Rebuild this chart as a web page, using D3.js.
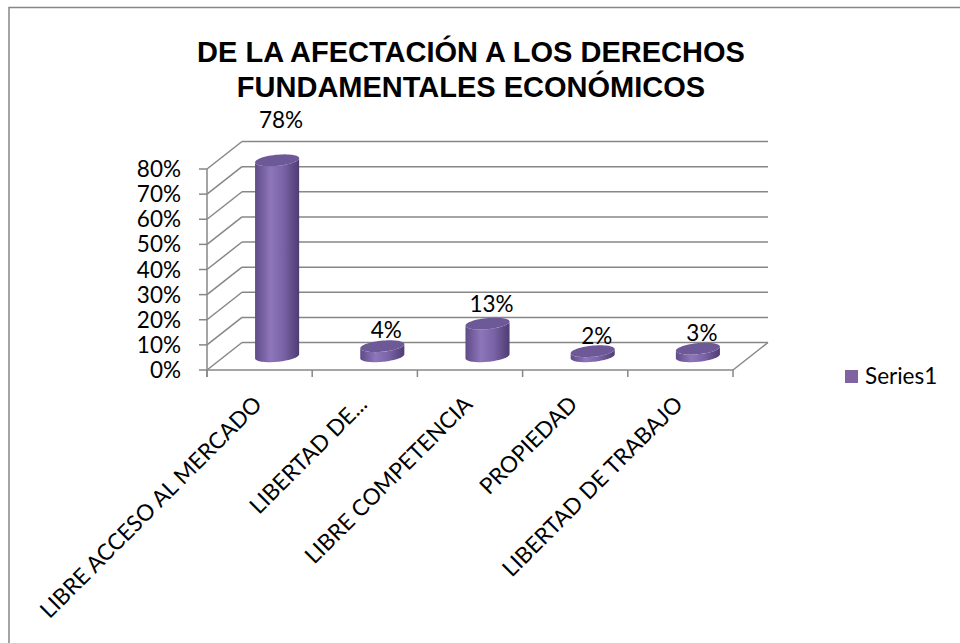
<!DOCTYPE html>
<html>
<head>
<meta charset="utf-8">
<script src="https://cdn.jsdelivr.net/npm/d3@7"></script>
<style>
  html, body { margin: 0; padding: 0; background: #fff; }
  svg { display: block; }
</style>
</head>
<body>
<svg id="chart" width="960" height="643"></svg>
<script>
// chart data
const titleLines = ["DE LA AFECTACIÓN A LOS DERECHOS", "FUNDAMENTALES ECONÓMICOS"];
const categories = ["LIBRE ACCESO AL MERCADO", "LIBERTAD DE...", "LIBRE COMPETENCIA", "PROPIEDAD", "LIBERTAD DE TRABAJO"];
const values = [0.78, 0.04, 0.13, 0.02, 0.03];
const yTicks = [0, 0.1, 0.2, 0.3, 0.4, 0.5, 0.6, 0.7, 0.8];
const seriesName = "Series1";

const svg = d3.select("#chart");
const font = "Lato, 'Open Sans', sans-serif";
const gridColor = "#878787";

// 3D depth offset (front -> back)
const depth = { dx: 35, dy: -27.5 };

const x = d3.scaleBand().domain(categories).range([207, 733]);
const y = d3.scaleLinear().domain([0, 0.8]).range([370, 169]);

// chart border (runs off the right and bottom edges)
svg.append("rect")
  .attr("x", 9).attr("y", 7.5)
  .attr("width", 1000).attr("height", 700)
  .attr("fill", "none")
  .attr("stroke", gridColor)
  .attr("stroke-width", 1.5);

// title
svg.append("text")
  .attr("x", 471).attr("y", 62)
  .attr("text-anchor", "middle")
  .style("font-family", "'Liberation Sans', Arial, sans-serif")
  .style("font-weight", "bold")
  .style("font-size", "29px")
  .selectAll("tspan")
  .data(titleLines)
  .join("tspan")
    .attr("x", 471)
    .attr("dy", (d, i) => i === 0 ? 0 : 35)
    .text(d => d);

const walls = svg.append("g")
  .attr("stroke", gridColor)
  .attr("stroke-width", 1.5)
  .attr("fill", "none");

const [x0, x1] = x.range();

// back wall gridlines
walls.selectAll(".grid")
  .data(yTicks)
  .join("line")
    .attr("class", "grid")
    .attr("x1", x0 + depth.dx).attr("x2", x1 + depth.dx)
    .attr("y1", d => y(d) + depth.dy).attr("y2", d => y(d) + depth.dy);

// side wall diagonals
walls.selectAll(".side")
  .data(yTicks)
  .join("line")
    .attr("class", "side")
    .attr("x1", x0).attr("x2", x0 + depth.dx)
    .attr("y1", d => y(d)).attr("y2", d => y(d) + depth.dy);

// floor front edge and right edge
walls.append("line")
  .attr("x1", x0).attr("x2", x1)
  .attr("y1", y(0)).attr("y2", y(0));
walls.append("line")
  .attr("x1", x1).attr("x2", x1 + depth.dx)
  .attr("y1", y(0)).attr("y2", y(0) + depth.dy);

// vertical axis line + ticks
walls.append("line")
  .attr("x1", x0).attr("x2", x0)
  .attr("y1", y(0.8)).attr("y2", y(0) + 7);
walls.selectAll(".ytick")
  .data(yTicks)
  .join("line")
    .attr("class", "ytick")
    .attr("x1", x0 - 8).attr("x2", x0)
    .attr("y1", d => y(d)).attr("y2", d => y(d));

// category boundary ticks
const bounds = categories.map(c => x(c)).concat([x1]);
walls.selectAll(".xtick")
  .data(bounds)
  .join("line")
    .attr("class", "xtick")
    .attr("x1", d => d).attr("x2", d => d)
    .attr("y1", y(0)).attr("y2", y(0) + 7);

// y tick labels
svg.append("g")
  .selectAll("text")
  .data(yTicks)
  .join("text")
    .attr("x", 181)
    .attr("y", d => y(d))
    .attr("dy", "0.36em")
    .attr("text-anchor", "end")
    .style("font-family", font)
    .style("font-size", "22.5px")
    .text(d3.format(".0%"));

// cylinders
const defs = svg.append("defs");
const grad = defs.append("linearGradient")
  .attr("id", "cylBody")
  .attr("x1", "0%").attr("x2", "100%").attr("y1", "0%").attr("y2", "0%");
grad.selectAll("stop")
  .data([
    { o: "0%", c: "#5f4b88" },
    { o: "35%", c: "#8e76ba" },
    { o: "65%", c: "#7a62a6" },
    { o: "100%", c: "#4e3c72" }
  ])
  .join("stop")
    .attr("offset", d => d.o)
    .attr("stop-color", d => d.c);

const radius = 20.7;
const D = 96;                 // depth in x-pixel units
const kx = depth.dx / D, ky = -depth.dy / D;
const th0 = Math.atan(kx);    // silhouette angle

function ellipsePt(cx, cy, t) {
  return [cx + radius * Math.cos(t) + radius * Math.sin(t) * kx,
          cy - radius * Math.sin(t) * ky];
}
function arc(cx, cy, a, b, n) {
  return d3.range(n + 1).map(i => ellipsePt(cx, cy, a + (b - a) * i / n));
}

const bars = svg.append("g");
categories.forEach((c, i) => {
  const v = values[i];
  const cx = x(c) + x.bandwidth() / 2 + depth.dx / 2;
  const baseY = y(0) + depth.dy / 2;
  const topY = y(v) + depth.dy / 2;

  // body: bottom front arc, then top front arc reversed
  const bottom = arc(cx, baseY, th0 + Math.PI, th0 + 2 * Math.PI, 40);
  const top = arc(cx, topY, th0 + 2 * Math.PI, th0 + Math.PI, 40);
  bars.append("path")
    .attr("d", d3.line()(bottom.concat(top)) + "Z")
    .attr("fill", "url(#cylBody)");

  // top cap
  bars.append("path")
    .attr("d", d3.line()(arc(cx, topY, 0, 2 * Math.PI, 60)) + "Z")
    .attr("fill", "#6d5898");

  // data label
  bars.append("text")
    .attr("x", cx + 4)
    .attr("y", topY - 7 - 32 * v)
    .attr("text-anchor", "middle")
    .style("font-family", font)
    .style("font-size", "22.5px")
    .text(d3.format(".0%")(v));
});

// category labels
svg.append("g")
  .selectAll("text")
  .data(categories)
  .join("text")
    .attr("transform", d => `translate(${x(d) + x.bandwidth() / 2 - 9},393) rotate(-45)`)
    .attr("dy", "0.8em")
    .attr("text-anchor", "end")
    .style("font-family", font)
    .style("font-size", "22.5px")
    .text(d => d);

// legend
const legend = svg.append("g").attr("transform", "translate(845,370)");
legend.append("rect")
  .attr("width", 13).attr("height", 13)
  .attr("fill", "#8064a2");
legend.append("text")
  .attr("x", 20).attr("y", 13.5)
  .style("font-family", font)
  .style("font-size", "22.5px")
  .text(seriesName);
</script>
</body>
</html>
